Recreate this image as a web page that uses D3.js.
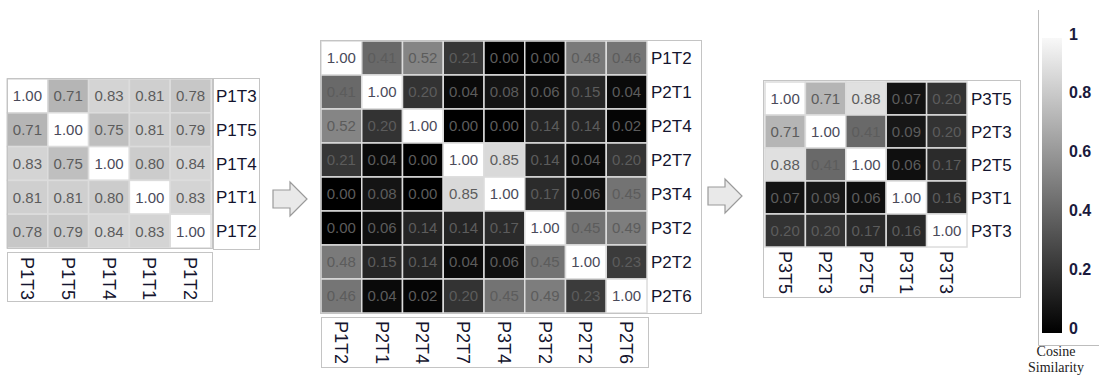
<!DOCTYPE html>
<html>
<head>
<meta charset="utf-8">
<script src="https://cdn.jsdelivr.net/npm/d3@7"></script>
<style>
  body { margin: 0; background: #fff; }
  svg { display: block; }
</style>
</head>
<body>
<div id="chart"></div>
<script>
// data
var labelsA = ["P1T3", "P1T5", "P1T4", "P1T1", "P1T2"];
var valuesA = [
    [1.00, 0.71, 0.83, 0.81, 0.78],
    [0.71, 1.00, 0.75, 0.81, 0.79],
    [0.83, 0.75, 1.00, 0.80, 0.84],
    [0.81, 0.81, 0.80, 1.00, 0.83],
    [0.78, 0.79, 0.84, 0.83, 1.00]
];

var labelsB = ["P1T2", "P2T1", "P2T4", "P2T7", "P3T4", "P3T2", "P2T2", "P2T6"];
var valuesB = [
    [1.00, 0.41, 0.52, 0.21, 0.00, 0.00, 0.48, 0.46],
    [0.41, 1.00, 0.20, 0.04, 0.08, 0.06, 0.15, 0.04],
    [0.52, 0.20, 1.00, 0.00, 0.00, 0.14, 0.14, 0.02],
    [0.21, 0.04, 0.00, 1.00, 0.85, 0.14, 0.04, 0.20],
    [0.00, 0.08, 0.00, 0.85, 1.00, 0.17, 0.06, 0.45],
    [0.00, 0.06, 0.14, 0.14, 0.17, 1.00, 0.45, 0.49],
    [0.48, 0.15, 0.14, 0.04, 0.06, 0.45, 1.00, 0.23],
    [0.46, 0.04, 0.02, 0.20, 0.45, 0.49, 0.23, 1.00]
];

var labelsC = ["P3T5", "P2T3", "P2T5", "P3T1", "P3T3"];
var valuesC = [
    [1.00, 0.71, 0.88, 0.07, 0.20],
    [0.71, 1.00, 0.41, 0.09, 0.20],
    [0.88, 0.41, 1.00, 0.06, 0.17],
    [0.07, 0.09, 0.06, 1.00, 0.16],
    [0.20, 0.20, 0.17, 0.16, 1.00]
];

var legendTicks = [0, 0.2, 0.4, 0.6, 0.8, 1];
var legendTitle = ["Cosine", "Similarity"];

var width = 1099;
var height = 378;
var frameColor = "#c4c4c4";
var labelColor = "#14142e";

var color = d3.scaleLinear().domain([0, 1]).range(["#000000", "#ffffff"]);

var svg = d3.select("#chart")
    .append("svg")
    .attr("width", width)
    .attr("height", height);

function box(x0, y0, x1, y1) {
    svg.append("rect")
        .attr("x", x0 + 0.5)
        .attr("y", y0 + 0.5)
        .attr("width", x1 - x0)
        .attr("height", y1 - y0)
        .style("fill", "none")
        .style("stroke", frameColor)
        .style("stroke-width", 1);
}

function drawMatrix(labels, values, o) {
    var x = d3.scaleBand().domain(labels).range([o.x0, o.x1]);
    var y = d3.scaleBand().domain(labels).range([o.y0, o.y1]);
    var g = svg.append("g");

    var cells = [];
    values.forEach(function(row, i) {
        row.forEach(function(v, j) {
            cells.push({ r: labels[i], c: labels[j], v: v });
        });
    });

    g.selectAll("rect.cell")
        .data(cells)
        .enter().append("rect")
        .attr("class", "cell")
        .attr("x", function(d) { return x(d.c); })
        .attr("y", function(d) { return y(d.r); })
        .attr("width", x.bandwidth())
        .attr("height", y.bandwidth())
        .style("fill", function(d) { return color(d.v); })
        .style("stroke", "#dcdcdc")
        .style("stroke-width", 1.5);

    g.selectAll("text.val")
        .data(cells)
        .enter().append("text")
        .attr("class", "val")
        .attr("x", function(d) { return x(d.c) + x.bandwidth() / 2; })
        .attr("y", function(d) { return y(d.r) + y.bandwidth() / 2; })
        .attr("dy", "0.36em")
        .attr("text-anchor", "middle")
        .style("font-family", "Arial, 'Liberation Sans', sans-serif")
        .style("font-size", "15px")
        .style("fill", function(d) { return d.v == 1 ? "#4a4a5a" : "#5c5c5c"; })
        .text(function(d) { return d.v.toFixed(2); });

    g.selectAll("text.row")
        .data(labels)
        .enter().append("text")
        .attr("class", "row")
        .attr("x", o.rowX)
        .attr("y", function(d) { return y(d) + y.bandwidth() / 2; })
        .attr("dy", "0.36em")
        .style("font-family", "Arial, 'Liberation Sans', sans-serif")
        .style("font-size", "17px")
        .style("fill", labelColor)
        .text(function(d) { return d; });

    g.selectAll("text.col")
        .data(labels)
        .enter().append("text")
        .attr("class", "col")
        .attr("transform", function(d) {
            return "translate(" + (x(d) + x.bandwidth() / 2) + "," + o.colY + ") rotate(90)";
        })
        .attr("dy", "0.36em")
        .style("font-family", "Arial, 'Liberation Sans', sans-serif")
        .style("font-size", "18px")
        .style("fill", labelColor)
        .text(function(d) { return d; });
}

// left matrix
drawMatrix(labelsA, valuesA, { x0: 7, x1: 211, y0: 79, y1: 248, rowX: 216, colY: 257 });
box(7, 78, 212, 248);
box(213, 78, 259, 249);
box(7, 252, 212, 301);

// middle matrix
drawMatrix(labelsB, valuesB, { x0: 321, x1: 647, y0: 41, y1: 313, rowX: 651, colY: 321 });
box(320, 40, 701, 313);
box(321, 317, 648, 367);

// right matrix
drawMatrix(labelsC, valuesC, { x0: 765, x1: 967, y0: 82, y1: 247, rowX: 971, colY: 251 });
box(763, 80, 1020, 297);

// block arrows
function arrow(cx, cy) {
    var pts = [
        [cx - 17, cy - 9], [cx, cy - 9], [cx, cy - 17], [cx + 17, cy],
        [cx, cy + 17], [cx, cy + 9], [cx - 17, cy + 9]
    ];
    svg.append("path")
        .attr("d", d3.line()(pts) + "Z")
        .style("fill", "#e9e9e9")
        .style("stroke", "#9a9a9a")
        .style("stroke-width", 1.2);
}
arrow(290, 199);
arrow(725, 196);

// colour bar
var defs = svg.append("defs");
var grad = defs.append("linearGradient")
    .attr("id", "cbar")
    .attr("x1", "0").attr("y1", "1")
    .attr("x2", "0").attr("y2", "0");
grad.append("stop").attr("offset", "0%").attr("stop-color", color(0));
grad.append("stop").attr("offset", "100%").attr("stop-color", "#f8f8f8");

svg.append("path")
    .attr("d", "M1038.5,10V345.5H1099")
    .style("fill", "none")
    .style("stroke", "#bdbdbd");

svg.append("rect")
    .attr("x", 1042)
    .attr("y", 38)
    .attr("width", 20)
    .attr("height", 295)
    .style("fill", "url(#cbar)");

var yLegend = d3.scaleLinear().domain([0, 1]).range([328, 34]);
var axis = d3.axisRight(yLegend)
    .tickValues(legendTicks)
    .tickSize(0)
    .tickPadding(0)
    .tickFormat(d3.format("~g"));

var ag = svg.append("g")
    .attr("transform", "translate(1069,0)")
    .call(axis);
ag.select(".domain").remove();
ag.selectAll("text")
    .style("font-family", "Arial, 'Liberation Sans', sans-serif")
    .style("font-size", "16px")
    .style("font-weight", "bold")
    .style("fill", "#1a1a3c");

svg.selectAll("text.ltitle")
    .data(legendTitle)
    .enter().append("text")
    .attr("class", "ltitle")
    .attr("x", 1056)
    .attr("y", function(d, i) { return 356 + i * 16; })
    .attr("text-anchor", "middle")
    .style("font-family", "'Liberation Serif', 'Times New Roman', serif")
    .style("font-size", "14px")
    .style("fill", "#222")
    .text(function(d) { return d; });
</script>
</body>
</html>
